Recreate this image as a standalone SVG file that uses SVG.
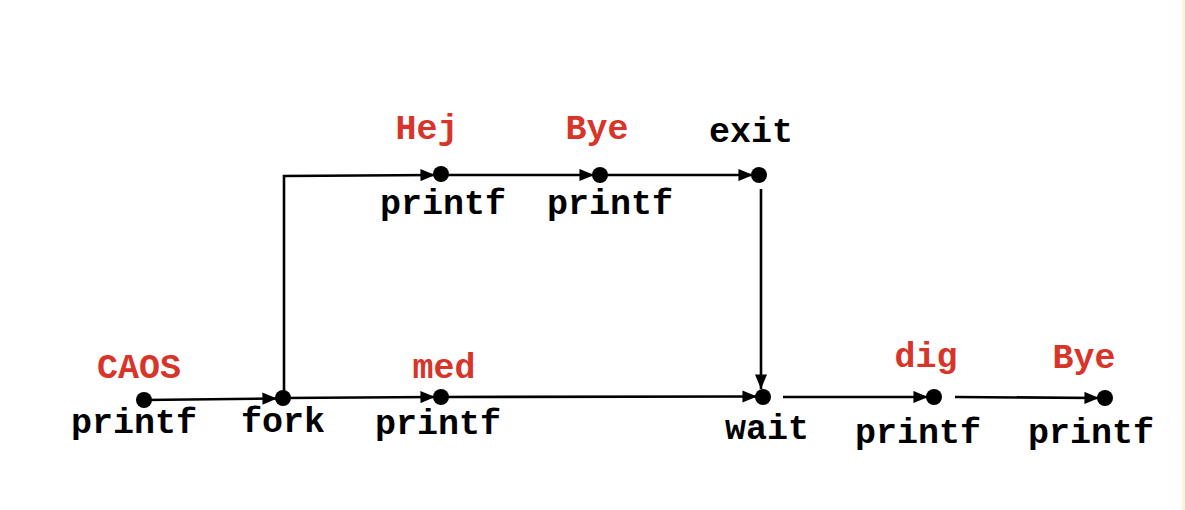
<svg xmlns="http://www.w3.org/2000/svg" width="1185" height="510" viewBox="0 0 1185 510">
<style>
.t{font-family:"Liberation Mono","Courier New",monospace;font-weight:bold;font-size:35px;text-anchor:middle;fill:#000}
.r{fill:#d8352a}
.l{stroke:#000;stroke-width:2.6;fill:none}
.a{marker-end:url(#ah)}
.d{fill:#000}
</style>
<defs>
<marker id="ah" viewBox="0 0 12 10" refX="12" refY="5" markerWidth="5.6" markerHeight="4.8" orient="auto" markerUnits="strokeWidth">
<path d="M0,0 L12,5 L0,10 z" fill="#000"/>
</marker>
</defs>
<rect x="0" y="0" width="1185" height="510" fill="#fff"/>
<rect x="1182" y="0" width="3" height="510" fill="#fdf0dc"/>
<g id="connectors">
<path class="l a" d="M144,400 L277,398.5"/>
<path class="l a" d="M284,398 L284,176 L435,175"/>
<path class="l a" d="M441,175 L594,175"/>
<path class="l a" d="M600,175 L753,175"/>
<path class="l a" d="M761,189 L761,389"/>
<path class="l a" d="M283,398 L435,397"/>
<path class="l a" d="M441,397 L757,396.5"/>
<path class="l a" d="M783,397 L928,397"/>
<path class="l a" d="M955,397 L1099,398"/>
</g>
<g id="n-caos"><circle class="d" cx="144" cy="400" r="8"/><text class="t r" x="139" y="378">CAOS</text><text class="t" x="134" y="433">printf</text></g>
<g id="n-fork"><circle class="d" cx="283" cy="398" r="8"/><text class="t" x="283" y="432">fork</text></g>
<g id="n-hej"><circle class="d" cx="441" cy="174" r="8"/><text class="t r" x="427" y="139">Hej</text><text class="t" x="443" y="214">printf</text></g>
<g id="n-bye1"><circle class="d" cx="600" cy="175" r="8"/><text class="t r" x="597" y="139">Bye</text><text class="t" x="610" y="214">printf</text></g>
<g id="n-exit"><circle class="d" cx="759" cy="175" r="8"/><text class="t" x="751" y="142">exit</text></g>
<g id="n-med"><circle class="d" cx="441" cy="397" r="8"/><text class="t r" x="444" y="378">med</text><text class="t" x="438" y="434">printf</text></g>
<g id="n-wait"><circle class="d" cx="763" cy="397" r="8"/><text class="t" x="767" y="439">wait</text></g>
<g id="n-dig"><circle class="d" cx="934" cy="397" r="8"/><text class="t r" x="926" y="367">dig</text><text class="t" x="918" y="443">printf</text></g>
<g id="n-bye2"><circle class="d" cx="1105" cy="398" r="8"/><text class="t r" x="1084" y="368">Bye</text><text class="t" x="1091" y="443">printf</text></g>
</svg>
